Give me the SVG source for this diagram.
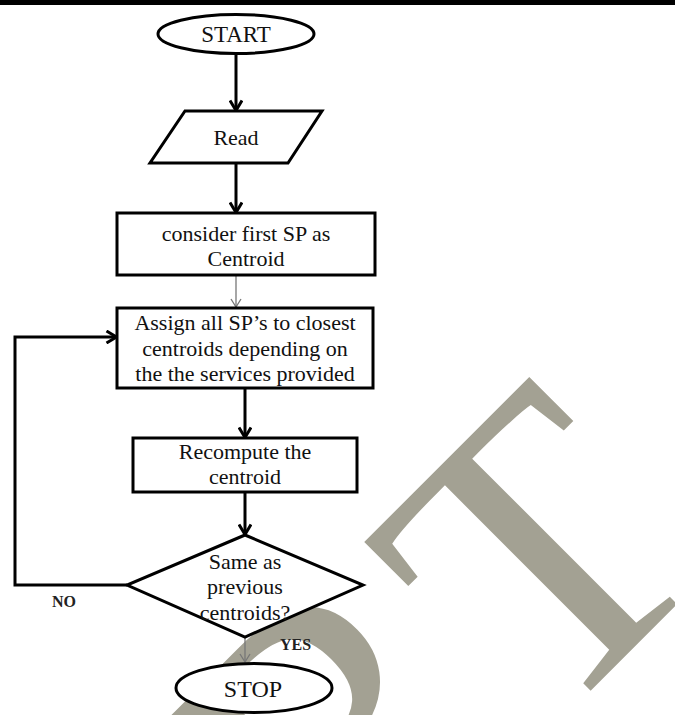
<svg xmlns="http://www.w3.org/2000/svg" width="675" height="715" viewBox="0 0 675 715">
<defs>
<style>
.node{fill:#fff;stroke:#000;stroke-width:3}
.lbl{font-family:"Liberation Serif","Times New Roman",serif;font-size:22px;fill:#111;text-anchor:middle}
.big{font-size:23px}
.tag{font-family:"Liberation Serif","Times New Roman",serif;font-size:16px;font-weight:bold;fill:#222}
.conn{fill:none;stroke:#000;stroke-width:3}
.conn-thin{fill:none;stroke:#777;stroke-width:1.3}
.wm{font-family:"Liberation Serif","Times New Roman",serif;font-size:405px;fill:#a3a193}
</style>
<marker id="ah" viewBox="0 0 14 14" refX="11.5" refY="7" markerWidth="14" markerHeight="14" markerUnits="userSpaceOnUse" orient="auto">
<path d="M2,1 L12,7 L2,13" fill="none" stroke="#000" stroke-width="3"/>
</marker>
<marker id="ahThin" viewBox="0 0 12 12" refX="10" refY="6" markerWidth="12" markerHeight="12" markerUnits="userSpaceOnUse" orient="auto">
<path d="M2,1 L10,6 L2,11" fill="none" stroke="#777" stroke-width="1.3"/>
</marker>
</defs>
<rect x="0" y="0" width="675" height="715" fill="#fff"/>
<g id="watermark">
<text class="wm" transform="rotate(-45)" x="-416" y="892">R</text>
<text class="wm" transform="rotate(-45)" x="-133" y="906">T</text>
</g>
<rect id="top-rule" x="0" y="0" width="675" height="5" fill="#000"/>
<g id="connectors">
<path class="conn" d="M236,54 V110" marker-end="url(#ah)"/>
<path class="conn" d="M236,164 V212" marker-end="url(#ah)"/>
<path class="conn-thin" d="M236,276 V307" marker-end="url(#ahThin)"/>
<path class="conn" d="M245,389 V437" marker-end="url(#ah)"/>
<path class="conn" d="M245,493 V534" marker-end="url(#ah)"/>
<path class="conn-thin" d="M245,638 V662" marker-end="url(#ahThin)"/>
<path class="conn" d="M127,585 H15 V337 H116" marker-end="url(#ah)"/>
<text class="tag" x="52" y="607">NO</text>
<text class="tag" x="280" y="650">YES</text>
</g>
<g id="start">
<ellipse class="node" cx="236" cy="34" rx="78" ry="19.5" stroke-width="2.5"/>
<text class="lbl big" x="236" y="42">START</text>
</g>
<g id="read">
<polygon class="node" points="185,111 322,111 288,163 150,163"/>
<text class="lbl" x="236" y="145">Read</text>
</g>
<g id="init-centroid">
<rect class="node" x="117" y="213" width="258" height="62" stroke-width="3.5"/>
<text class="lbl" x="246" y="241">consider first SP as</text>
<text class="lbl" x="246" y="266">Centroid</text>
</g>
<g id="assign">
<rect class="node" x="117" y="308" width="256" height="80"/>
<text class="lbl" x="245" y="330">Assign all SP’s to closest</text>
<text class="lbl" x="245" y="355.5">centroids depending on</text>
<text class="lbl" x="245" y="381">the the services provided</text>
</g>
<g id="recompute">
<rect class="node" x="133" y="438" width="224" height="54" stroke-width="2.5"/>
<text class="lbl" x="245" y="459">Recompute the</text>
<text class="lbl" x="245" y="484">centroid</text>
</g>
<g id="decision">
<polygon class="node" points="245,535 363,585 245,637 127,585"/>
<text class="lbl" x="245" y="569">Same as</text>
<text class="lbl" x="245" y="594">previous</text>
<text class="lbl" x="245" y="620">centroids?</text>
</g>
<g id="stop">
<ellipse class="node" cx="254" cy="688" rx="78" ry="24.5" stroke-width="2.5"/>
<text class="lbl" x="253" y="697" style="font-size:24px">STOP</text>
</g>
</svg>
